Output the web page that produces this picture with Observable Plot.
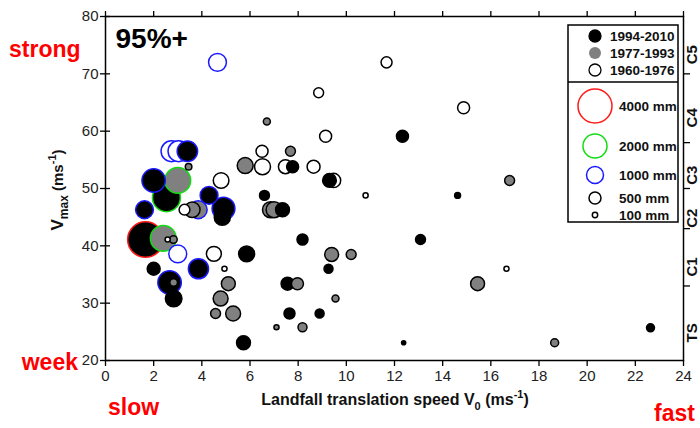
<!DOCTYPE html>
<html><head><meta charset="utf-8">
<script src="https://cdn.jsdelivr.net/npm/d3@7"></script>
<script src="https://cdn.jsdelivr.net/npm/@observablehq/plot@0.6"></script>
<style>
body{margin:0;background:#fff}
svg{font-family:"Liberation Sans",Arial,sans-serif}
</style>
</head><body><div id="chart"></div>
<script>
const P1 = "1994-2010", P2 = "1977-1993", P3 = "1960-1976";
const periods = [P1, P2, P3];
const periodFill = ["black", "#808080", "white"];

const speed = [2.74,3.03,3.40,3.45,2.00,3.00,2.53,4.80,4.30,4.90,4.85,1.62,3.28,3.85,3.60,1.66,2.40,2.58,2.82,3.00,2.00,2.66,2.83,2.83,3.86,4.50,4.94,5.10,4.78,4.57,5.30,5.73,6.70,9.14,6.50,7.68,5.80,6.52,7.47,7.77,8.64,9.47,9.30,6.60,6.85,7.00,7.35,11.67,8.85,14.87,12.33,10.80,14.62,16.78,4.65,8.18,13.08,9.39,10.20,9.26,16.65,7.56,7.97,15.45,9.55,7.64,8.89,8.18,12.38,18.65,22.63,5.86,7.10];
const vmax = [56.5,56.5,56.5,53.8,51.4,51.4,48.4,51.4,48.8,46.5,45.0,46.3,46.3,46.3,46.3,41.1,41.3,41.1,41.1,38.6,36.0,33.6,33.6,30.8,36.0,38.6,36.0,33.4,30.8,28.2,28.2,23.1,61.7,59.1,56.5,56.5,54.0,53.8,53.8,53.8,53.8,51.4,51.4,48.8,46.3,46.3,46.3,72.0,66.7,64.1,59.1,48.8,48.8,51.4,72.0,41.1,41.1,38.5,38.5,36.0,36.0,33.4,33.4,33.4,30.8,28.2,28.2,25.8,23.1,23.1,25.7,38.6,25.8];
const rain = [1500,1500,1450,150,1900,2300,2700,850,1100,1800,900,1100,400,1100,850,4400,2300,90,200,1100,580,1900,200,950,1400,770,90,670,770,340,770,670,170,500,500,340,880,880,670,500,580,700,650,340,880,880,670,420,340,500,500,90,120,340,1100,420,340,670,340,280,90,580,500,670,170,420,280,280,60,220,220,880,90];
const period = [P3,P3,P1,P2,P1,P2,P1,P3,P1,P1,P1,P1,P3,P2,P2,P1,P2,P3,P2,P3,P1,P1,P2,P1,P1,P3,P3,P2,P2,P2,P2,P1,P2,P3,P3,P2,P2,P3,P3,P1,P3,P3,P1,P1,P2,P2,P1,P3,P3,P3,P1,P3,P1,P2,P3,P1,P1,P2,P2,P1,P3,P1,P2,P2,P2,P1,P1,P2,P1,P2,P1,P1,P2];

const xTicks = [0,2,4,6,8,10,12,14,16,18,20,22,24];
const yTicks = [20,30,40,50,60,70,80];
const catBreaks = [33,43,50,58,70];
const cats = ["TS","C1","C2","C3","C4","C5"];
const catMid = [26.5,38,46.5,54,64,75];
const rainLevels = [4000,2000,1000,500,100];
const rainThresholds = [1000,2000,4000];
const rainStrokes = ["black","#1a1aff","#11dd11","#ff1a1a"];

const strokeOf = d3.scaleThreshold().domain(rainThresholds).range(rainStrokes);
const data = speed.map((s,i) => ({speed: s, vmax: vmax[i], rain: rain[i], period: period[i]}));

const plot = Plot.plot({
  width: 700, height: 428,
  marginLeft: 105, marginRight: 17, marginTop: 16, marginBottom: 68,
  style: {fontFamily: '"Liberation Sans", Arial, sans-serif', color: "#222", background: "white"},
  x: {domain: [0,24]},
  y: {domain: [20,80]},
  r: {type: "sqrt", domain: [0,4000], range: [0,17]},
  color: {type: "identity"},
  marks: [
    Plot.dot(data, {x: "speed", y: "vmax", r: "rain",
      fill: d => periodFill[periods.indexOf(d.period)],
      stroke: d => strokeOf(d.rain), strokeWidth: 1.5}),
    Plot.axisX({anchor: "bottom", ticks: xTicks, tickSize: 6, tickPadding: 4, fontSize: 15, label: null, stroke: "black", strokeWidth: 1.3}),
    Plot.axisX({anchor: "top", ticks: xTicks, tickSize: 6, tickFormat: () => "", label: null, stroke: "black", strokeWidth: 1.3}),
    Plot.axisY({anchor: "left", ticks: yTicks, tickSize: 5, tickPadding: 2, fontSize: 15, label: null, stroke: "black", strokeWidth: 1.3}),
    Plot.axisY({anchor: "left", ticks: yTicks, tickSize: -5, tickFormat: () => "", label: null, stroke: "black", strokeWidth: 1.3}),
    Plot.axisY({anchor: "right", ticks: catBreaks, tickSize: 6, tickFormat: () => "", label: null, stroke: "black", strokeWidth: 1.3}),
    Plot.text(cats, {y: catMid, text: d => d, frameAnchor: "right", dx: 9, rotate: -90, fontWeight: "bold", fontSize: 15, fill: "#111"}),
    Plot.text(["95%+"], {frameAnchor: "top-left", dx: 10, dy: 12, textAnchor: "start", lineAnchor: "top", fontWeight: "bold", fontSize: 28, fill: "black"}),
    Plot.frame({stroke: "black", strokeWidth: 1.5})
  ]
});
document.getElementById("chart").appendChild(plot);

const svg = d3.select(plot);
const rScale = plot.scale("r");

// red annotations
const red = "#ff0000";
[["strong", 9, 57, "start"], ["week", 78, 370, "end"], ["slow", 108, 415, "start"], ["fast", 695, 421, "end"]]
  .forEach(([t, x, y, a]) => svg.append("text").attr("x", x).attr("y", y).attr("text-anchor", a)
    .attr("font-size", 23).attr("font-weight", "bold").attr("fill", red).text(t));

// x label
const xl = svg.append("text").attr("x", 395).attr("y", 405).attr("text-anchor", "middle")
  .attr("font-size", 16).attr("font-weight", "bold").attr("fill", "#111");
xl.append("tspan").text("Landfall translation speed V");
xl.append("tspan").attr("dy", 5).attr("font-size", 11).text("0");
xl.append("tspan").attr("dy", -5).text(" (ms");
xl.append("tspan").attr("dy", -7).attr("font-size", 11).text("-1");
xl.append("tspan").attr("dy", 7).text(")");

// y label
const yl = svg.append("text").attr("transform", "translate(63,190) rotate(-90)").attr("text-anchor", "middle")
  .attr("font-size", 15).attr("font-weight", "bold").attr("fill", "#111");
yl.append("tspan").attr("font-size", 17).text("V");
yl.append("tspan").attr("dy", 5).attr("font-size", 12).text("max");
yl.append("tspan").attr("dy", -5).text(" (ms");
yl.append("tspan").attr("dy", -7).attr("font-size", 11).text("-1");
yl.append("tspan").attr("dy", 7).text(")");

// legend
const lg = svg.append("g").attr("text-anchor", "start");
lg.append("rect").attr("x", 568).attr("y", 25).attr("width", 110).attr("height", 197)
  .attr("fill", "white").attr("stroke", "black").attr("stroke-width", 1.5);
lg.append("line").attr("x1", 568).attr("x2", 678).attr("y1", 82).attr("y2", 82)
  .attr("stroke", "black").attr("stroke-width", 1.5);
const yearY = [36, 53, 70];
periods.forEach((p, i) => {
  lg.append("circle").attr("cx", 595).attr("cy", yearY[i]).attr("r", 6)
    .attr("fill", periodFill[i]).attr("stroke", i === 1 ? "none" : "black").attr("stroke-width", 1.3);
  lg.append("text").attr("x", 610).attr("y", yearY[i]).attr("dy", "0.35em").attr("text-anchor", "start")
    .attr("font-size", 13.5).attr("font-weight", "bold").attr("fill", "#111").text(p);
});
const sizeY = [106, 146, 175, 198, 215];
rainLevels.forEach((v, i) => {
  lg.append("circle").attr("cx", 595).attr("cy", sizeY[i]).attr("r", rScale.apply(v))
    .attr("fill", "none").attr("stroke", strokeOf(v)).attr("stroke-width", 1.5);
  lg.append("text").attr("x", 619).attr("y", sizeY[i]).attr("dy", "0.35em").attr("text-anchor", "start")
    .attr("font-size", 13.5).attr("font-weight", "bold").attr("fill", "#111").text(v + " mm");
});
</script>
</body></html>
